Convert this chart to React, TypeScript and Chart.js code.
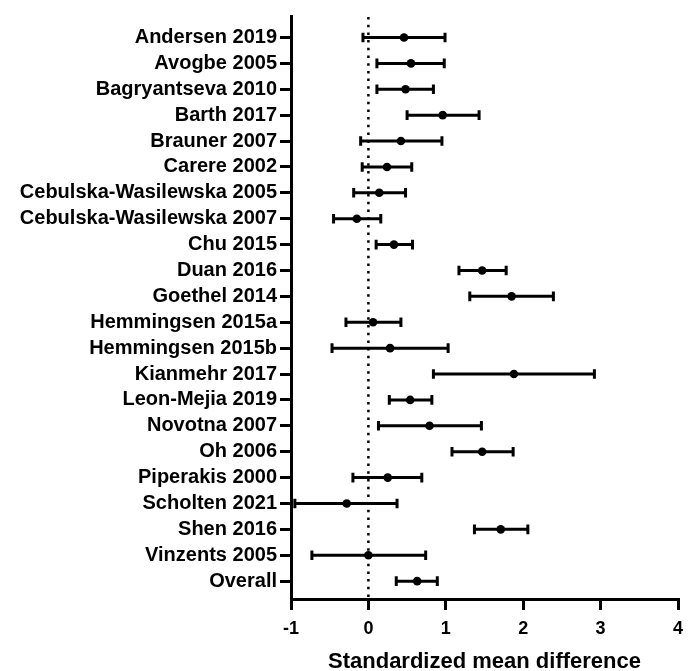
import React, { useEffect, useRef } from "react";
import { Chart, registerables } from "chart.js";

Chart.register(...registerables);

const studies = [
  "Andersen 2019",
  "Avogbe 2005",
  "Bagryantseva 2010",
  "Barth 2017",
  "Brauner 2007",
  "Carere 2002",
  "Cebulska-Wasilewska 2005",
  "Cebulska-Wasilewska 2007",
  "Chu 2015",
  "Duan 2016",
  "Goethel 2014",
  "Hemmingsen 2015a",
  "Hemmingsen 2015b",
  "Kianmehr 2017",
  "Leon-Mejia 2019",
  "Novotna 2007",
  "Oh 2006",
  "Piperakis 2000",
  "Scholten 2021",
  "Shen 2016",
  "Vinzents 2005",
  "Overall",
];

const smd = [0.46, 0.55, 0.48, 0.96, 0.42, 0.24, 0.14, -0.15, 0.33, 1.47, 1.85, 0.06, 0.28, 1.88, 0.54, 0.79, 1.47, 0.25, -0.28, 1.71, 0.0, 0.63];
const lower = [-0.07, 0.11, 0.11, 0.5, -0.1, -0.08, -0.19, -0.45, 0.1, 1.17, 1.31, -0.29, -0.47, 0.84, 0.27, 0.13, 1.08, -0.2, -0.95, 1.37, -0.73, 0.36];
const upper = [0.99, 0.98, 0.84, 1.43, 0.95, 0.56, 0.48, 0.16, 0.57, 1.78, 2.39, 0.42, 1.03, 2.92, 0.82, 1.46, 1.87, 0.69, 0.37, 2.06, 0.74, 0.89];

const xTicks = [-1, 0, 1, 2, 3, 4];
const xTitle = "Standardized mean difference";

const FONT = "'Liberation Sans', Arial, Helvetica, sans-serif";

const forestPlugin = {
  id: "forest",
  beforeDatasetsDraw(chart: any) {
    const { ctx, chartArea, scales } = chart;
    const xs = scales.x;
    const ys = scales.y;
    // zero reference line
    ctx.save();
    ctx.strokeStyle = "#000";
    ctx.lineWidth = 2.5;
    ctx.setLineDash([2.5, 5.2]);
    const x0 = xs.getPixelForValue(0);
    ctx.beginPath();
    ctx.moveTo(x0, chartArea.top + 1);
    ctx.lineTo(x0, chartArea.bottom);
    ctx.stroke();
    ctx.restore();

    // error bars
    ctx.save();
    ctx.strokeStyle = "#000";
    ctx.lineWidth = 3;
    ctx.lineCap = "butt";
    for (let i = 0; i < studies.length; i++) {
      const y = ys.getPixelForValue(i);
      const xl = xs.getPixelForValue(lower[i]);
      const xh = xs.getPixelForValue(upper[i]);
      ctx.beginPath();
      ctx.moveTo(xl, y);
      ctx.lineTo(xh, y);
      ctx.moveTo(xl, y - 4.8);
      ctx.lineTo(xl, y + 4.8);
      ctx.moveTo(xh, y - 4.8);
      ctx.lineTo(xh, y + 4.8);
      ctx.stroke();
    }
    ctx.restore();
  },
};

export default function App() {
  const ref = useRef<HTMLCanvasElement | null>(null);

  useEffect(() => {
    if (!ref.current) return;
    const chart = new Chart(ref.current, {
      type: "scatter",
      data: {
        datasets: [
          {
            data: smd.map((v, i) => ({ x: v, y: i })),
            backgroundColor: "#000",
            borderColor: "#000",
            pointRadius: 4.3,
            pointHoverRadius: 4.3,
            borderWidth: 0,
          },
        ],
      },
      options: {
        responsive: false,
        animation: false,
        layout: { padding: { left: 0, right: 16, top: 16, bottom: 0 } },
        plugins: {
          legend: { display: false },
          tooltip: { enabled: false },
        },
        scales: {
          x: {
            type: "linear",
            position: "bottom",
            min: -1,
            max: 4,
            afterBuildTicks: (scale: any) => {
              scale.ticks = xTicks.map((v) => ({ value: v }));
            },
            afterFit: (scale: any) => {
              scale.height = 72;
            },
            grid: {
              drawOnChartArea: false,
              drawTicks: true,
              tickLength: 11,
              tickWidth: 3,
              tickColor: "#000",
              color: "#000",
              lineWidth: 3,
            },
            border: { display: true, color: "#000", width: 3 },
            ticks: {
              color: "#000",
              font: { family: FONT, size: 18, weight: "bold" },
              padding: 8,
              callback: (v: any) => String(v),
            },
            title: {
              display: true,
              text: xTitle,
              color: "#000",
              font: { family: FONT, size: 22, weight: "bold", lineHeight: 0.85 },
              padding: { top: 0, bottom: 0 },
            },
          },
          y: {
            type: "linear",
            reverse: true,
            min: -0.83,
            max: 21.69,
            afterBuildTicks: (scale: any) => {
              scale.ticks = studies.map((_, i) => ({ value: i }));
            },
            afterFit: (scale: any) => {
              scale.width = 291;
            },
            grid: {
              drawOnChartArea: false,
              drawTicks: true,
              tickLength: 11,
              tickWidth: 3,
              tickColor: "#000",
              color: "#000",
              lineWidth: 3,
            },
            border: { display: true, color: "#000", width: 3 },
            ticks: {
              autoSkip: false,
              color: "#000",
              font: { family: FONT, size: 20, weight: "bold" },
              padding: 3,
              callback: (v: any) => studies[Math.round(Number(v))] ?? "",
            },
          },
        },
      },
      plugins: [forestPlugin],
    } as any);
    return () => chart.destroy();
  }, []);

  return (
    <div style={{ position: "absolute", left: 0, top: 0, width: 694, height: 671, background: "#fff" }}>
      <canvas ref={ref} width={694} height={671} style={{ display: "block" }} />
    </div>
  );
}
